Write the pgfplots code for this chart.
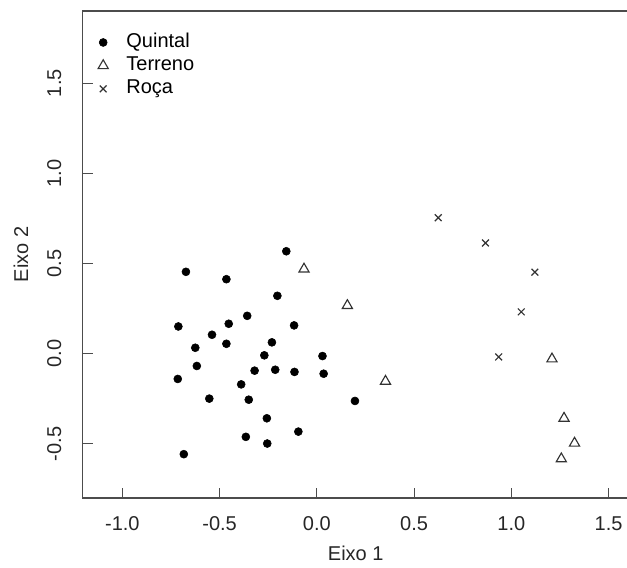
\documentclass[border=0pt]{standalone}
\usepackage{pgfplots}
\pgfplotsset{compat=1.18}
\usepackage{fontspec}
\setmainfont{Liberation Sans}

\pgfplotstableread{
x y
-0.465 0.413
-0.673 0.454
-0.157 0.568
-0.203 0.321
-0.358 0.210
-0.712 0.151
-0.453 0.166
-0.117 0.157
-0.539 0.105
-0.465 0.055
-0.231 0.063
-0.625 0.033
-0.270 -0.009
0.029 -0.013
-0.617 -0.068
-0.320 -0.094
-0.214 -0.089
-0.115 -0.101
0.035 -0.111
-0.715 -0.140
-0.389 -0.170
-0.553 -0.249
-0.350 -0.255
0.196 -0.262
-0.257 -0.358
-0.095 -0.432
-0.365 -0.461
-0.255 -0.498
-0.684 -0.557
}\quintal

\pgfplotstableread{
x y
-0.066 0.469
0.157 0.267
0.353 -0.153
1.209 -0.029
1.271 -0.358
1.325 -0.496
1.257 -0.583
}\terreno

\pgfplotstableread{
x y
0.624 0.754
0.867 0.614
1.121 0.452
1.051 0.232
0.935 -0.018
}\roca

\begin{document}
\begin{tikzpicture}
\begin{axis}[
    at={(62pt,51.75pt)},
    anchor=south west,
    scale only axis,
    width=409.6pt,
    height=365.25pt,
    xmin=-1.204, xmax=1.604,
    ymin=-0.8, ymax=1.9,
    axis line style={black!70, line width=0.8pt},
    tick style={black!70, line width=0.8pt},
    tick align=inside,
    major tick length=7.5pt,
    xtick pos=bottom, ytick pos=left,
    xtick={-1,-0.5,0,0.5,1,1.5},
    xticklabels={-1.0,-0.5,0.0,0.5,1.0,1.5},
    ytick={-0.5,0,0.5,1,1.5},
    yticklabels={-0.5,0.0,0.5,1.0,1.5},
    ticklabel style={font=\fontsize{15}{18}\selectfont, text=black!85},
    xticklabel style={anchor=base, yshift=-24.1pt},
    yticklabel style={xshift=-16.1pt, rotate=90, anchor=base},
    xlabel={Eixo 1},
    ylabel={Eixo 2},
    every axis x label/.style={at={(axis description cs:0.5,0)}, anchor=base, yshift=-47.2pt, font=\fontsize{15}{18}\selectfont, text=black!85},
    every axis y label/.style={at={(axis description cs:0,0.5)}, xshift=-40.9pt, rotate=90, anchor=base, font=\fontsize{15}{18}\selectfont, text=black!85},
    legend cell align=left,
    legend style={draw=none, fill=none, inner sep=0pt, outer sep=0pt,
        at={(axis description cs:0,1)}, anchor=north west,
        xshift=9.2pt, yshift=-16.1pt,
        font=\fontsize{15}{18}\selectfont,
        nodes={inner sep=0pt, text height=11.25pt, text depth=3.75pt},
        /tikz/column sep=11.2pt, /tikz/row sep=2.4pt},
    legend image code/.code={\draw[#1] plot coordinates {(0pt,0pt)}; \path (-6pt,-4.6pt) (6pt,1.4pt);},
]
\addplot[only marks, mark=*, mark size=3pt, black] table {\quintal};
\addlegendentry{Quintal}
\addplot[only marks, mark=triangle, mark size=4.4pt, black!80, mark options={line width=0.85pt}] table {\terreno};
\addlegendentry{Terreno}
\addplot[only marks, mark=x, mark size=3.6pt, black!80, mark options={line width=0.9pt}] table {\roca};
\addlegendentry{Roça}
\end{axis}
\pgfresetboundingbox
\useasboundingbox (0,0) rectangle (470.25pt,425.25pt);
\end{tikzpicture}
\end{document}
